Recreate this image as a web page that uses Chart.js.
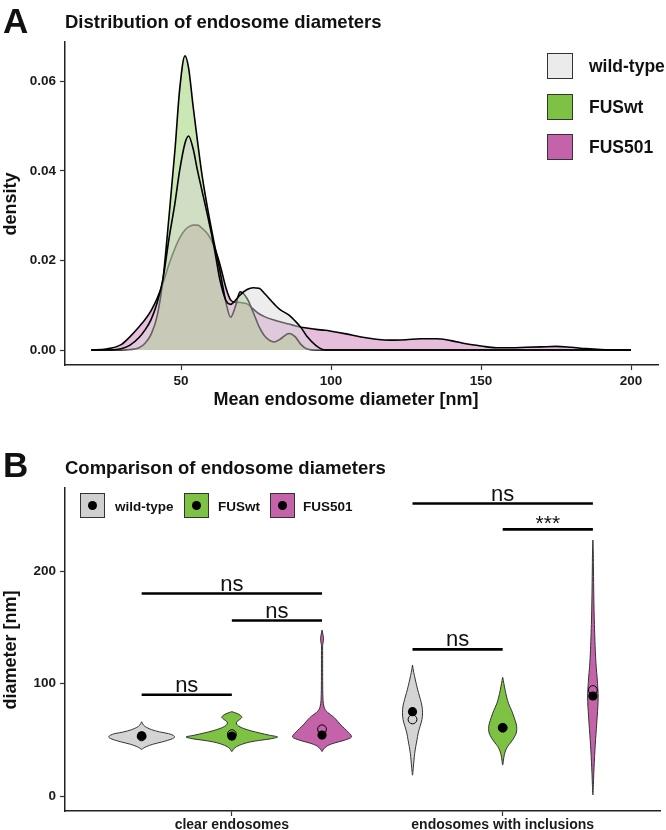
<!DOCTYPE html>
<html>
<head>
<meta charset="utf-8">
<script src="https://cdn.jsdelivr.net/npm/chart.js@4.4.1/dist/chart.umd.min.js"></script>
<style>
  body { margin: 0; background: #fff; font-family: 'Liberation Sans', Arial, sans-serif; }
  #wrap { position: relative; width: 666px; height: 830px; overflow: hidden; background: #fff; }
  canvas { position: absolute; left: 0; }
  .txt { position: absolute; white-space: nowrap; line-height: 1; font-weight: bold; color: #111; }
  .rot { transform: translate(-50%, -50%) rotate(-90deg); }
  .mid { transform: translateX(-50%); }
  .key { position: absolute; box-sizing: border-box; border: 1.5px solid #333; }
  .key i { position: absolute; left: 50%; top: 50%; width: 9px; height: 9px; margin: -4.5px 0 0 -4.5px; border-radius: 50%; background: #000; }
</style>
</head>
<body>
<div id="wrap">
  <canvas id="density" width="666" height="420" style="top:0"></canvas>
  <canvas id="violin" width="666" height="410" style="top:420px"></canvas>

  <div class="txt" style="left:3px;top:3.4px;font-size:35px">A</div>
  <div class="txt" style="left:65px;top:12.6px;font-size:18.5px">Distribution of endosome diameters</div>
  <div class="txt mid" style="left:346px;top:389.8px;font-size:18px">Mean endosome diameter [nm]</div>
  <div class="txt rot" style="left:10px;top:204px;font-size:18px">density</div>

  <div class="key" style="left:547px;top:53px;width:26px;height:26px;background:#ebebeb"></div>
  <div class="key" style="left:547px;top:94px;width:26px;height:26px;background:#7dc242"></div>
  <div class="key" style="left:547px;top:134px;width:26px;height:26px;background:#c462aa"></div>
  <div class="txt" style="left:589px;top:57.5px;font-size:17.5px">wild-type</div>
  <div class="txt" style="left:589px;top:98.5px;font-size:17.5px">FUSwt</div>
  <div class="txt" style="left:589px;top:138.5px;font-size:17.5px">FUS501</div>

  <div class="txt" style="left:3px;top:447.4px;font-size:35px">B</div>
  <div class="txt" style="left:65px;top:459.3px;font-size:18.5px">Comparison of endosome diameters</div>
  <div class="txt rot" style="left:10px;top:650px;font-size:18px">diameter [nm]</div>

  <div class="key" style="left:80px;top:493px;width:25px;height:25px;background:#d0d0d0"><i></i></div>
  <div class="key" style="left:184px;top:493px;width:25px;height:25px;background:#7dc242"><i></i></div>
  <div class="key" style="left:270px;top:493px;width:25px;height:25px;background:#c462aa"><i></i></div>
  <div class="txt" style="left:115px;top:499.7px;font-size:13.5px">wild-type</div>
  <div class="txt" style="left:218px;top:499.7px;font-size:13.5px">FUSwt</div>
  <div class="txt" style="left:303px;top:499.7px;font-size:13.5px">FUS501</div>
</div>

<script>
'use strict';
// ---- panel A data: density of mean endosome diameter ----
const densityX = [20, 25, 30, 33, 36, 38, 40, 42, 44, 46, 48, 49.5, 51.3, 52.5, 54, 55.5, 57, 59, 61, 63,
  65, 66.5, 68, 69.7, 72, 74, 76, 78, 81, 83, 86, 88, 90, 92, 95, 98, 100, 105, 110, 115,
  120, 125, 130, 135, 140, 145, 150, 155, 160, 165, 170, 175, 180, 185, 190, 195, 200];
const wildTypeDensity = [0, 0, 0.0003, 0.0011, 0.0028, 0.0045, 0.0068, 0.0105, 0.016, 0.025,
  0.033, 0.040, 0.0462, 0.0478, 0.045, 0.040, 0.0355, 0.0295, 0.023, 0.0155,
  0.011, 0.0102, 0.011, 0.0123, 0.0135, 0.0139, 0.0138, 0.0125, 0.0103, 0.009,
  0.0078, 0.0065, 0.005, 0.003, 0.001, 0, 0, 0, 0, 0,
  0, 0, 0, 0, 0, 0, 0, 0, 0, 0, 0, 0, 0, 0, 0, 0, 0];
const fusWtDensity = [0, 0, 0, 0.0001, 0.0005, 0.0015, 0.0035, 0.0075, 0.016, 0.03,
  0.045, 0.058, 0.0657, 0.063, 0.0545, 0.0465, 0.039, 0.031, 0.024, 0.0175,
  0.0105, 0.0073, 0.0095, 0.013, 0.0115, 0.0085, 0.0052, 0.003, 0.0018, 0.0024,
  0.0037, 0.003, 0.0012, 0.0002, 0, 0, 0, 0, 0, 0,
  0, 0, 0, 0, 0, 0, 0, 0, 0, 0, 0, 0, 0, 0, 0, 0, 0];
const fus501Density = [0, 0.0002, 0.0012, 0.003, 0.0052, 0.0068, 0.0088, 0.0115, 0.015, 0.0192,
  0.0228, 0.025, 0.0268, 0.0275, 0.0279, 0.0279, 0.0272, 0.0258, 0.0232, 0.019,
  0.0138, 0.0112, 0.0107, 0.0106, 0.0103, 0.0092, 0.0081, 0.0074, 0.0067, 0.0063,
  0.0058, 0.0054, 0.0051, 0.0049, 0.0046, 0.0044, 0.0042, 0.0036, 0.0029, 0.0024,
  0.0022, 0.0023, 0.0025, 0.0025, 0.0021, 0.0014, 0.0009, 0.0005, 0.0005, 0.0006,
  0.0007, 0.0008, 0.0006, 0.0003, 0.0001, 0, 0];
const densityTicks = [0, 0.02, 0.04, 0.06];
const diameterAxisTicks = [50, 100, 150, 200];

// ---- panel B data: violins (levels in nm, half widths in x-axis units) ----
const categories = ['clear endosomes', 'endosomes with inclusions'];
const groupPos = [1, 2];
const dodge = 0.333;

const clearWtLevels = [66, 63, 61, 59, 57, 55.5, 54, 52.5, 51, 49.5, 48, 46, 44, 42.5, 41.5];
const clearWtWidths = [0, 0.007, 0.018, 0.037, 0.066, 0.099, 0.116, 0.122, 0.114, 0.096, 0.074, 0.041, 0.018, 0.006, 0];
const clearFusWtLevels = [75, 73.5, 71.5, 70, 68, 66, 64, 62, 60, 58, 56, 54, 52.5, 51, 49.5, 48, 46, 44, 42, 39.5];
const clearFusWtWidths = [0, 0.018, 0.033, 0.037, 0.029, 0.018, 0.017, 0.026, 0.044, 0.070, 0.103, 0.140, 0.169, 0.147, 0.103, 0.066, 0.037, 0.018, 0.007, 0];
const clearFus501Levels = [147.5, 144, 140, 137, 134, 125, 110, 95, 85, 80, 77, 74, 71, 68, 64, 60, 57, 54, 52.5, 51, 49, 47, 45, 43, 41, 39.5];
const clearFus501Widths = [0, 0.003, 0.0055, 0.0044, 0.0022, 0.0022, 0.0022, 0.0026, 0.0037, 0.0066, 0.011, 0.022, 0.039, 0.052, 0.066, 0.083, 0.096, 0.107, 0.109, 0.099, 0.074, 0.044, 0.022, 0.011, 0.0037, 0];
const inclWtLevels = [116.5, 110, 104, 98, 92, 86, 80, 74, 68, 62, 56, 50, 44, 38, 32, 25, 18.5];
const inclWtWidths = [0, 0.0044, 0.0099, 0.0155, 0.022, 0.029, 0.035, 0.037, 0.035, 0.028, 0.021, 0.0166, 0.012, 0.0081, 0.0055, 0.0029, 0];
const inclFusWtLevels = [105.5, 100, 94, 88, 82, 76, 70, 64, 60, 56, 52, 48, 44, 40, 36, 32, 27.5];
const inclFusWtWidths = [0, 0.0044, 0.0092, 0.0147, 0.022, 0.033, 0.042, 0.050, 0.052, 0.050, 0.042, 0.031, 0.018, 0.010, 0.0055, 0.0029, 0];
const inclFus501Levels = [227.5, 215, 200, 180, 160, 145, 130, 115, 105, 95, 88, 80, 70, 60, 50, 40, 30, 20, 10, 1];
const inclFus501Widths = [0, 0.0015, 0.0022, 0.0033, 0.0048, 0.0066, 0.0088, 0.0122, 0.0158, 0.0184, 0.0195, 0.0184, 0.0158, 0.0129, 0.0099, 0.0074, 0.0052, 0.0033, 0.0018, 0];

// filled dot and open circle per violin (same order as violins)
const violinX = [1 - dodge, 1, 1 + dodge, 2 - dodge, 2, 2 + dodge];
const meanValues = [53.5, 53.3, 54.2, 75, 60.7, 88.9];
const medianValues = [53, 55, 59.3, 68.1, 60.7, 94.2];

// significance brackets
const sigLabels = ['ns', 'ns', 'ns', 'ns', '***', 'ns'];
const sigY = [180, 156, 90, 260, 237, 130.4];
const sigFrom = [1 - dodge, 1, 1 - dodge, 2 - dodge, 2, 2 - dodge];
const sigTo = [1 + dodge, 1 + dodge, 1, 2 + dodge, 2 + dodge, 2];
const diameterTicks = [0, 100, 200];

const colWt = '#d4d4d4';
const colFusWt = '#7dc242';
const colFus501 = '#c462aa';

Chart.defaults.font.family = "'Liberation Sans', Arial, sans-serif";
Chart.defaults.color = '#1a1a1a';

function toPoints(xs, ys) {
  return xs.map((x, i) => ({ x: x, y: ys[i] }));
}

function axisStyle() {
  return {
    border: { display: true, color: '#222', width: 1.5 },
    grid: { display: true, drawOnChartArea: false, drawTicks: true, tickLength: 5, tickColor: '#333', tickWidth: 1.2 },
  };
}

// ---- panel A ----
function densitySet(label, ys, fill) {
  return {
    label: label,
    data: toPoints(densityX, ys),
    borderColor: '#000',
    borderWidth: 1.6,
    backgroundColor: fill,
    fill: 'origin',
    pointRadius: 0,
    cubicInterpolationMode: 'monotone'
  };
}

// first dataset is drawn on top: wild-type over FUSwt over FUS501
new Chart(document.getElementById('density'), {
  type: 'line',
  data: {
    datasets: [
      densitySet('wild-type', wildTypeDensity, 'rgba(214,214,214,0.45)'),
      densitySet('FUSwt', fusWtDensity, 'rgba(125,194,66,0.4)'),
      densitySet('FUS501', fus501Density, 'rgba(196,98,170,0.42)')
    ]
  },
  options: {
    responsive: false,
    animation: false,
    layout: { padding: { left: 0, right: 8, top: 42, bottom: 0 } },
    plugins: { legend: { display: false }, tooltip: { enabled: false } },
    scales: {
      x: Object.assign(axisStyle(), {
        type: 'linear', min: 11.3, max: 209,
        afterBuildTicks: s => { s.ticks = diameterAxisTicks.map(v => ({ value: v })); },
        ticks: { padding: 3, maxRotation: 0, autoSkip: false, font: { size: 13.5, weight: 'bold' } },
        afterFit: s => { s.height = 55; }
      }),
      y: Object.assign(axisStyle(), {
        min: -0.00335, max: 0.0688,
        afterBuildTicks: s => { s.ticks = densityTicks.map(v => ({ value: v })); },
        ticks: { padding: 4, callback: v => v.toFixed(2), font: { size: 13.5, weight: 'bold' } },
        afterFit: s => { s.width = 65; }
      })
    }
  }
});

// ---- panel B ----
function violinSet(center, levels, widths, fill) {
  const right = levels.map((y, i) => ({ x: center + widths[i], y: y }));
  const left = levels.map((y, i) => ({ x: center - widths[i], y: y })).reverse().slice(1);
  return {
    data: right.concat(left),
    borderColor: '#333',
    borderWidth: 1,
    backgroundColor: fill,
    fill: 'shape',
    pointRadius: 0,
    tension: 0.3
  };
}

const sigSets = sigLabels.map((t, i) => ({
  data: [{ x: sigFrom[i], y: sigY[i] }, { x: sigTo[i], y: sigY[i] }],
  borderColor: '#000',
  borderWidth: 2.6,
  pointRadius: 0,
  fill: false
}));

const sigText = {
  id: 'sigText',
  afterDatasetsDraw(chart) {
    const ctx = chart.ctx;
    const xs = chart.scales.x;
    const ys = chart.scales.y;
    ctx.save();
    ctx.fillStyle = '#111';
    ctx.textAlign = 'center';
    ctx.textBaseline = 'alphabetic';
    sigLabels.forEach((t, i) => {
      const px = xs.getPixelForValue((sigFrom[i] + sigTo[i]) / 2);
      const py = ys.getPixelForValue(sigY[i]);
      if (t === '***') {
        ctx.font = "21px 'Liberation Sans', Arial, sans-serif";
        ctx.fillText(t, px, py + 1);
      } else {
        ctx.font = "22px 'Liberation Sans', Arial, sans-serif";
        ctx.fillText(t, px, py - 3);
      }
    });
    ctx.restore();
  }
};

new Chart(document.getElementById('violin'), {
  type: 'line',
  data: {
    datasets: [
      {
        data: toPoints(violinX, meanValues),
        showLine: false, pointRadius: 4.6, pointBackgroundColor: '#000', pointBorderWidth: 0
      },
      {
        data: toPoints(violinX, medianValues),
        showLine: false, pointRadius: 4.4, pointBackgroundColor: 'rgba(0,0,0,0)', pointBorderColor: '#000', pointBorderWidth: 1
      }
    ].concat(sigSets, [
      violinSet(1 - dodge, clearWtLevels, clearWtWidths, colWt),
      violinSet(1, clearFusWtLevels, clearFusWtWidths, colFusWt),
      violinSet(1 + dodge, clearFus501Levels, clearFus501Widths, colFus501),
      violinSet(2 - dodge, inclWtLevels, inclWtWidths, colWt),
      violinSet(2, inclFusWtLevels, inclFusWtWidths, colFusWt),
      violinSet(2 + dodge, inclFus501Levels, inclFus501Widths, colFus501)
    ])
  },
  options: {
    responsive: false,
    animation: false,
    layout: { padding: { left: 0, right: 4, top: 68, bottom: 0 } },
    plugins: { legend: { display: false }, tooltip: { enabled: false } },
    scales: {
      x: Object.assign(axisStyle(), {
        type: 'linear', min: 0.384, max: 2.583,
        afterBuildTicks: s => { s.ticks = groupPos.map(v => ({ value: v })); },
        ticks: { padding: 1, maxRotation: 0, autoSkip: false, callback: (v, i) => categories[i], font: { size: 14, weight: 'bold' } },
        afterFit: s => { s.height = 19; }
      }),
      y: Object.assign(axisStyle(), {
        min: -13.3, max: 273.8,
        afterBuildTicks: s => { s.ticks = diameterTicks.map(v => ({ value: v })); },
        ticks: { padding: 4, font: { size: 13.5, weight: 'bold' } },
        afterFit: s => { s.width = 65; }
      })
    }
  },
  plugins: [sigText]
});
</script>
</body>
</html>
